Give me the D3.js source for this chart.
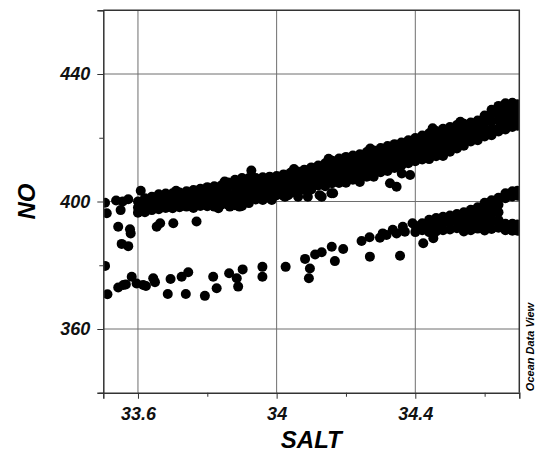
<!DOCTYPE html>
<html>
<head>
<meta charset="utf-8">
<script src="https://cdn.jsdelivr.net/npm/d3@7"></script>
<style>
  body { margin: 0; background: #fff; }
  svg text { font-family: "Liberation Sans", Arial, sans-serif; font-weight: bold; font-style: italic; }
</style>
</head>
<body>
<div id="chart"></div>
<script>
let width = 535;
let height = 453;
let margin = ({ top: 10.25, right: 15.7, bottom: 60.25, left: 103.3 });

// tick values
let xMajor = [33.6, 34, 34.4];
let xMinor = [33.8, 34.2, 34.6];
let yMajor = [360, 400, 440];
let yMinor = [340, 380, 420, 460];

// dense upper branch, read column by column: salt -> NO values in that column
let bandSalt = [33.60, 33.62, 33.64, 33.66, 33.68, 33.70, 33.72, 33.74, 33.76, 33.78,
  33.80, 33.82, 33.84, 33.86, 33.88, 33.90, 33.92, 33.94, 33.96, 33.98,
  34.00, 34.02, 34.04, 34.06, 34.08, 34.10, 34.12, 34.14, 34.16, 34.18,
  34.20, 34.22, 34.24, 34.26, 34.28, 34.30, 34.32, 34.34, 34.36, 34.38,
  34.40, 34.42, 34.44, 34.46, 34.48, 34.50, 34.52, 34.54, 34.56, 34.58,
  34.60, 34.62, 34.64, 34.66, 34.68, 34.695];
let bandNO = [
  [400.0, 398.1, 396.5], [401.0, 399.6, 397.8, 396.6], [401.5, 399.5, 397.3],
  [402.3, 401.0, 399.0, 397.6], [402.5, 400.3, 398.0], [402.6, 401.4, 399.4, 397.9],
  [402.8, 400.6, 398.2], [403.2, 402.0, 399.9, 398.4], [403.6, 401.5, 399.2, 398.0],
  [404.0, 402.8, 400.7, 398.6], [404.5, 402.3, 400.2, 398.5],
  [404.8, 403.5, 401.4, 399.4, 398.4], [405.0, 403.0, 401.0, 399.0],
  [406.0, 404.8, 402.6, 400.4, 399.0], [406.8, 404.6, 402.4, 400.2, 398.8],
  [407.4, 406.2, 404.0, 401.8, 399.8, 398.6], [407.4, 405.3, 403.2, 401.2, 399.5],
  [407.4, 406.4, 404.4, 402.4, 400.6], [407.6, 405.5, 403.5, 401.5, 400.5],
  [407.8, 406.8, 404.8, 402.8, 401.0], [408.0, 406.0, 404.0, 402.0],
  [408.5, 407.4, 405.3, 403.3, 401.8], [409.0, 406.9, 404.8, 402.7],
  [409.4, 408.3, 406.2, 404.1, 402.6], [410.0, 407.9, 405.8, 403.6],
  [410.7, 409.6, 407.5, 405.4, 403.8], [411.3, 409.2, 407.1, 405.0],
  [412.0, 410.9, 408.7, 406.5, 404.8], [412.8, 410.6, 408.2, 405.7],
  [413.5, 412.3, 410.0, 407.7, 405.8], [414.0, 411.8, 409.6, 407.4, 405.9],
  [414.4, 413.2, 411.0, 408.8, 406.8], [414.8, 412.6, 410.4, 408.2, 406.1],
  [415.5, 414.3, 412.0, 409.8, 407.8], [416.0, 413.8, 411.5, 409.3, 407.8],
  [416.8, 415.6, 413.4, 411.2, 409.2], [417.4, 415.2, 413.0, 410.9, 409.6],
  [418.0, 416.8, 414.6, 412.5, 410.5], [418.5, 416.3, 414.1, 411.9, 411.3],
  [419.2, 418.0, 415.8, 413.6, 412.0], [419.9, 417.7, 415.5, 413.3, 412.6],
  [420.7, 419.5, 417.3, 415.1, 413.2], [421.4, 419.2, 417.0, 414.8, 413.3],
  [422.1, 420.9, 418.7, 416.5, 414.2], [422.8, 420.6, 418.4, 416.2, 414.3],
  [423.4, 422.2, 420.0, 417.8, 415.6], [424.0, 421.8, 419.6, 417.4, 416.6],
  [424.4, 423.3, 421.2, 419.1, 417.5], [424.8, 422.8, 420.8, 418.8],
  [425.4, 424.2, 422.2, 420.2, 419.2], [427.0, 424.8, 422.6, 420.4],
  [428.8, 427.5, 425.2, 422.8, 420.8], [430.0, 427.7, 425.4, 423.0, 422.0],
  [430.8, 429.5, 427.2, 424.8, 422.6], [431.0, 428.8, 426.5, 424.2, 423.4],
  [430.5, 429.2, 427.0, 424.8, 423.8]
];

// scattered points around the upper branch
let upperSparse = [
  [33.505, 399.6], [33.510, 396.3], [33.537, 400.3], [33.556, 400.0], [33.572, 400.7],
  [33.550, 397.3], [33.608, 403.4], [33.543, 392.1], [33.577, 391.3], [33.579, 390.0],
  [33.553, 386.7], [33.572, 386.0], [33.654, 392.1], [33.664, 393.2], [33.702, 393.2],
  [33.769, 393.7], [33.832, 397.9], [33.865, 398.4], [33.893, 398.4], [33.927, 409.7],
  [33.986, 400.5], [34.024, 401.5], [34.033, 402.0], [34.062, 401.5], [34.090, 401.5],
  [34.124, 402.0], [34.130, 401.5], [34.158, 402.6], [34.163, 402.6], [34.327, 405.7],
  [34.346, 404.6], [34.361, 408.8], [34.385, 408.3], [34.05, 410.2], [34.15, 413.4],
  [34.27, 416.6], [34.45, 423.0], [34.53, 425.0], [33.85, 406.3], [33.71, 403.4]
];

// lower branch, scattered part
let lowerBranch = [
  [33.505, 379.8], [33.512, 370.9], [33.543, 373.0], [33.558, 373.8], [33.565, 374.0],
  [33.582, 376.4], [33.596, 374.3], [33.615, 373.8], [33.623, 373.5], [33.644, 375.9],
  [33.649, 374.7], [33.694, 375.7], [33.686, 371.0], [33.726, 376.4], [33.745, 377.8],
  [33.738, 371.0], [33.793, 370.4], [33.817, 376.4], [33.827, 372.8], [33.863, 377.5],
  [33.885, 375.9], [33.889, 373.3], [33.902, 378.7], [33.959, 379.5], [33.959, 376.4],
  [34.026, 379.5], [34.082, 382.0], [34.096, 379.0], [34.093, 375.9], [34.111, 383.4],
  [34.130, 384.1], [34.159, 385.8], [34.168, 381.3], [34.192, 385.1], [34.245, 387.6],
  [34.268, 388.8], [34.269, 382.7], [34.298, 388.6], [34.317, 389.5], [34.306, 390.0],
  [34.335, 391.1], [34.346, 390.0], [34.356, 383.0], [34.364, 392.1], [34.370, 390.5],
  [34.392, 393.2], [34.423, 386.9], [34.452, 388.5]
];

// lower branch, dense right part: salt -> NO values in that column
let lowSalt = [34.40, 34.42, 34.44, 34.46, 34.48, 34.50, 34.52, 34.54, 34.56, 34.58,
  34.60, 34.62, 34.64, 34.66, 34.68, 34.695];
let lowNO = [
  [392.4, 390.4], [393.2, 391.0], [394.3, 392.3, 390.4], [394.8, 392.7, 390.6],
  [395.2, 393.1, 391.0], [395.6, 393.5, 391.2], [396.1, 394.0, 391.6],
  [396.6, 394.6, 392.4, 390.6], [397.4, 395.3, 393.2, 391.0], [398.2, 396.0, 393.8, 391.5],
  [399.6, 397.4, 395.2, 393.0, 390.9], [400.4, 398.2, 396.0, 393.8, 391.4],
  [401.2, 399.0, 396.6, 394.2, 391.8], [402.6, 401.0, 393.0, 391.0],
  [403.2, 401.6, 393.0, 390.8], [403.4, 401.8, 392.8, 390.8]
];

let data = [];
bandSalt.forEach((s, i) => bandNO[i].forEach(v => data.push({ x: s, y: v })));
lowSalt.forEach((s, i) => lowNO[i].forEach(v => data.push({ x: s, y: v })));
upperSparse.forEach(d => data.push({ x: d[0], y: d[1] }));
lowerBranch.forEach(d => data.push({ x: d[0], y: d[1] }));

let xScale = d3.scaleLinear()
  .domain([33.5, 34.7])
  .range([margin.left, width - margin.right]);
let yScale = d3.scaleLinear()
  .domain([340, 460])
  .range([height - margin.bottom, margin.top]);

let svg = d3.select("#chart")
  .append("svg")
  .attr("width", width)
  .attr("height", height);

svg.append("clipPath").attr("id", "plot-clip")
  .append("rect")
  .attr("x", margin.left)
  .attr("y", margin.top)
  .attr("width", width - margin.right - margin.left)
  .attr("height", height - margin.bottom - margin.top);

// grid lines at the labelled ticks
svg.append("g")
  .attr("stroke", "#6e6e6e")
  .attr("stroke-width", 1)
  .call(g => g.selectAll(".vx").data(xMajor).join("line")
    .attr("x1", d => xScale(d)).attr("x2", d => xScale(d))
    .attr("y1", margin.top).attr("y2", height - margin.bottom))
  .call(g => g.selectAll(".hy").data(yMajor).join("line")
    .attr("y1", d => yScale(d)).attr("y2", d => yScale(d))
    .attr("x1", margin.left).attr("x2", width - margin.right));

// points
svg.append("g")
  .attr("clip-path", "url(#plot-clip)")
  .attr("fill", "#000")
  .selectAll("circle")
  .data(data)
  .join("circle")
  .attr("cx", d => xScale(d.x))
  .attr("cy", d => yScale(d.y))
  .attr("r", 5);

// axes
let xAxis = g => g
  .attr("transform", `translate(0,${height - margin.bottom})`)
  .call(d3.axisBottom(xScale).tickValues(xMajor).tickSize(6).tickPadding(8).tickFormat(d3.format("")))
  .call(g => g.selectAll(".tick line").attr("stroke", "#333"))
  .call(g => g.select(".domain").attr("stroke", "#333").attr("stroke-width", 1.5))
  .call(g => g.selectAll(".tick text").attr("font-size", 18).attr("fill", "#111"));
let xAxisMinor = g => g
  .attr("transform", `translate(0,${height - margin.bottom})`)
  .call(d3.axisBottom(xScale).tickValues(xMinor).tickSize(4).tickFormat(""))
  .call(g => g.select(".domain").remove())
  .call(g => g.selectAll(".tick line").attr("stroke", "#333"));

let yAxis = g => g
  .attr("transform", `translate(${margin.left},0)`)
  .call(d3.axisLeft(yScale).tickValues(yMajor).tickSize(6).tickPadding(7))
  .call(g => g.selectAll(".tick line").attr("stroke", "#333"))
  .call(g => g.select(".domain").attr("stroke", "#333").attr("stroke-width", 1.5))
  .call(g => g.selectAll(".tick text").attr("font-size", 18).attr("fill", "#111"));
let yAxisMinor = g => g
  .attr("transform", `translate(${margin.left},0)`)
  .call(d3.axisLeft(yScale).tickValues(yMinor).tickSize(4).tickFormat(""))
  .call(g => g.select(".domain").remove())
  .call(g => g.selectAll(".tick line").attr("stroke", "#333"));

svg.append("g").call(xAxisMinor);
svg.append("g").call(yAxisMinor);
svg.append("g").call(xAxis);
svg.append("g").call(yAxis);

// top and right frame
svg.append("path")
  .attr("fill", "none")
  .attr("stroke", "#333")
  .attr("stroke-width", 1.5)
  .attr("d", `M${margin.left},${margin.top}H${width - margin.right}V${height - margin.bottom}`);

// titles
svg.append("text")
  .attr("x", (margin.left + width - margin.right) / 2)
  .attr("y", 448)
  .attr("text-anchor", "middle")
  .attr("font-size", 24)
  .text("SALT");

svg.append("text")
  .attr("transform", `translate(35,${(margin.top + height - margin.bottom) / 2}) rotate(-90)`)
  .attr("text-anchor", "middle")
  .attr("font-size", 24)
  .text("NO");

svg.append("text")
  .attr("transform", `translate(534,347) rotate(-90)`)
  .attr("text-anchor", "middle")
  .attr("font-size", 11)
  .text("Ocean Data View");
</script>
</body>
</html>
